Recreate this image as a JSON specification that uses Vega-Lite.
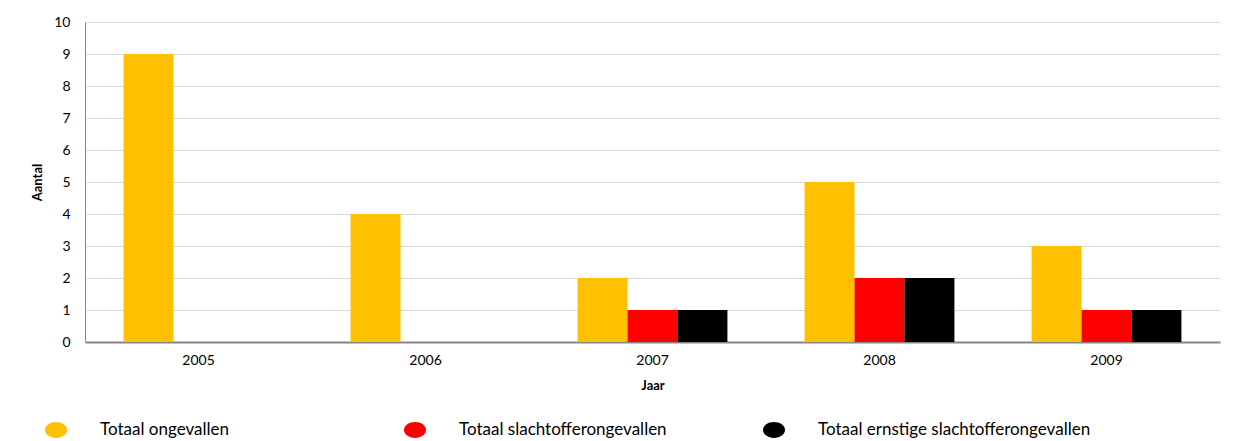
{
  "$schema": "https://vega.github.io/schema/vega-lite/v6.json",
  "width": 1135,
  "height": 320,
  "autosize": {"type": "none"},
  "padding": {"left": 85, "top": 22, "right": 25, "bottom": 99},
  "background": "white",
  "config": {
    "font": "Lato",
    "view": {"stroke": null},
    "axis": {"labelFont": "Lato", "titleFont": "Lato", "labelColor": "#000000", "titleColor": "#000000"}
  },
  "data": {
    "values": [
      {"jaar": "2005", "reeks": "Totaal ongevallen", "aantal": 9},
      {"jaar": "2005", "reeks": "Totaal slachtofferongevallen", "aantal": 0},
      {"jaar": "2005", "reeks": "Totaal ernstige slachtofferongevallen", "aantal": 0},
      {"jaar": "2006", "reeks": "Totaal ongevallen", "aantal": 4},
      {"jaar": "2006", "reeks": "Totaal slachtofferongevallen", "aantal": 0},
      {"jaar": "2006", "reeks": "Totaal ernstige slachtofferongevallen", "aantal": 0},
      {"jaar": "2007", "reeks": "Totaal ongevallen", "aantal": 2},
      {"jaar": "2007", "reeks": "Totaal slachtofferongevallen", "aantal": 1},
      {"jaar": "2007", "reeks": "Totaal ernstige slachtofferongevallen", "aantal": 1},
      {"jaar": "2008", "reeks": "Totaal ongevallen", "aantal": 5},
      {"jaar": "2008", "reeks": "Totaal slachtofferongevallen", "aantal": 2},
      {"jaar": "2008", "reeks": "Totaal ernstige slachtofferongevallen", "aantal": 2},
      {"jaar": "2009", "reeks": "Totaal ongevallen", "aantal": 3},
      {"jaar": "2009", "reeks": "Totaal slachtofferongevallen", "aantal": 1},
      {"jaar": "2009", "reeks": "Totaal ernstige slachtofferongevallen", "aantal": 1}
    ]
  },
  "mark": {"type": "bar"},
  "encoding": {
    "x": {
      "field": "jaar",
      "type": "nominal",
      "title": "Jaar",
      "scale": {"paddingInner": 0.34, "paddingOuter": 0.17},
      "axis": {
        "labelAngle": 0,
        "labelFontSize": 14,
        "labelPadding": 11,
        "ticks": false,
        "domainColor": "#868686",
        "domainWidth": 2,
        "titleFontSize": 13,
        "titleFontWeight": "bold",
        "titlePadding": 12
      }
    },
    "xOffset": {
      "field": "reeks",
      "type": "nominal",
      "sort": ["Totaal ongevallen", "Totaal slachtofferongevallen", "Totaal ernstige slachtofferongevallen"],
      "scale": {"paddingInner": 0, "paddingOuter": 0}
    },
    "y": {
      "field": "aantal",
      "type": "quantitative",
      "title": "Aantal",
      "scale": {"domain": [0, 10], "nice": false},
      "axis": {
        "values": [0, 1, 2, 3, 4, 5, 6, 7, 8, 9, 10],
        "labelFontSize": 14,
        "labelPadding": 15,
        "ticks": false,
        "domainColor": "#868686",
        "gridColor": "#d9d9d9",
        "titleFontSize": 13,
        "titleFontWeight": "bold",
        "titlePadding": 9
      }
    },
    "color": {
      "field": "reeks",
      "type": "nominal",
      "sort": ["Totaal ongevallen", "Totaal slachtofferongevallen", "Totaal ernstige slachtofferongevallen"],
      "scale": {
        "domain": ["Totaal ongevallen", "Totaal slachtofferongevallen", "Totaal ernstige slachtofferongevallen"],
        "range": ["#FFC000", "#FF0000", "#000000"]
      },
      "legend": {
        "title": null,
        "orient": "none",
        "legendX": -40,
        "legendY": 397,
        "direction": "horizontal",
        "columns": 3,
        "gridAlign": "all",
        "columnPadding": 31,
        "symbolType": "M -1 0 A 1 0.72 0 1 0 1 0 A 1 0.72 0 1 0 -1 0 Z",
        "symbolSize": 484,
        "symbolStrokeWidth": 0,
        "symbolOpacity": 1,
        "symbolOffset": 0,
        "labelOffset": 33,
        "labelFont": "Lato",
        "labelFontSize": 17,
        "labelColor": "#000000",
        "labelLimit": 400
      }
    }
  }
}
